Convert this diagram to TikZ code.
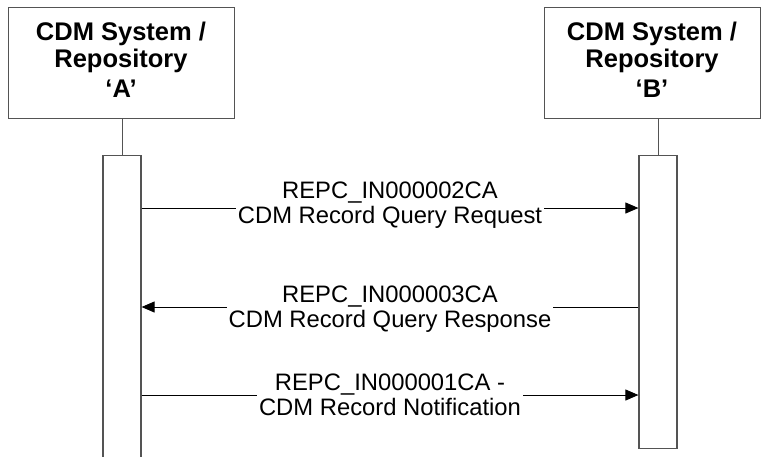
\documentclass[tikz,border=0pt]{standalone}
\usepackage{fontspec}
\setmainfont{Liberation Sans}
\usetikzlibrary{arrows.meta}
\definecolor{framegray}{gray}{0.33}
\begin{document}
\begin{tikzpicture}[x=1pt,y=-1pt,
  headbox/.style={draw=framegray, line width=1pt, fill=white, align=center,
    font=\bfseries\fontsize{25.5}{27}\selectfont, inner sep=0pt},
  actbox/.style={draw=framegray, line width=1.2pt, fill=white,
    minimum width=38pt, inner sep=0pt, anchor=north},
  lifeline/.style={draw=framegray, line width=1pt},
  msg/.style={draw=black, line width=0.9pt, -{Triangle[length=13pt,width=11pt]}},
  msglabel/.style={fill=white, align=center, inner xsep=2pt, inner ysep=1pt,
    font=\fontsize{23.8}{24.5}\selectfont, anchor=base}]
  \useasboundingbox (0,0) rectangle (762,456);

  % participants
  \node[headbox, minimum width=226pt, minimum height=111pt] (boxA) at (121,62.5)
    {CDM System /\\Repository\\[3pt]‘A’\vphantom{p}};
  \node[headbox, minimum width=216pt, minimum height=111pt] (boxB) at (652,62.5)
    {CDM System /\\Repository\\[3pt]‘B’\vphantom{p}};

  % activation bars
  \node[actbox, minimum height=315pt] (actA) at (122,155) {};
  \node[actbox, minimum height=293pt] (actB) at (658,155) {};

  % lifelines
  \draw[lifeline] (boxA.south -| actA.north) -- (actA.north);
  \draw[lifeline] (boxB.south -| actB.north) -- (actB.north);

  % message anchor points
  \path (actA.north east) ++(0,53)  coordinate (m1s);
  \path (actB.north west) ++(0,53)  coordinate (m1e);
  \path (actB.north west) ++(0,152) coordinate (m2s);
  \path (actA.north east) ++(0,152) coordinate (m2e);
  \path (actA.north east) ++(0,240) coordinate (m3s);
  \path (actB.north west) ++(0,240) coordinate (m3e);

  % messages
  \draw[msg] (m1s) -- (m1e);
  \draw[msg] (m2s) -- (m2e);
  \draw[msg] (m3s) -- (m3e);

  % message labels (base anchor = baseline of the last line)
  \node[msglabel] (lab1) at (390,223) {REPC\_IN000002CA\\CDM Record Query Request};
  \node[msglabel] (lab2) at (390,327) {REPC\_IN000003CA\\CDM Record Query Response};
  \node[msglabel] (lab3) at (390,415) {REPC\_IN000001CA -\\CDM Record Notification};
\end{tikzpicture}
\end{document}
